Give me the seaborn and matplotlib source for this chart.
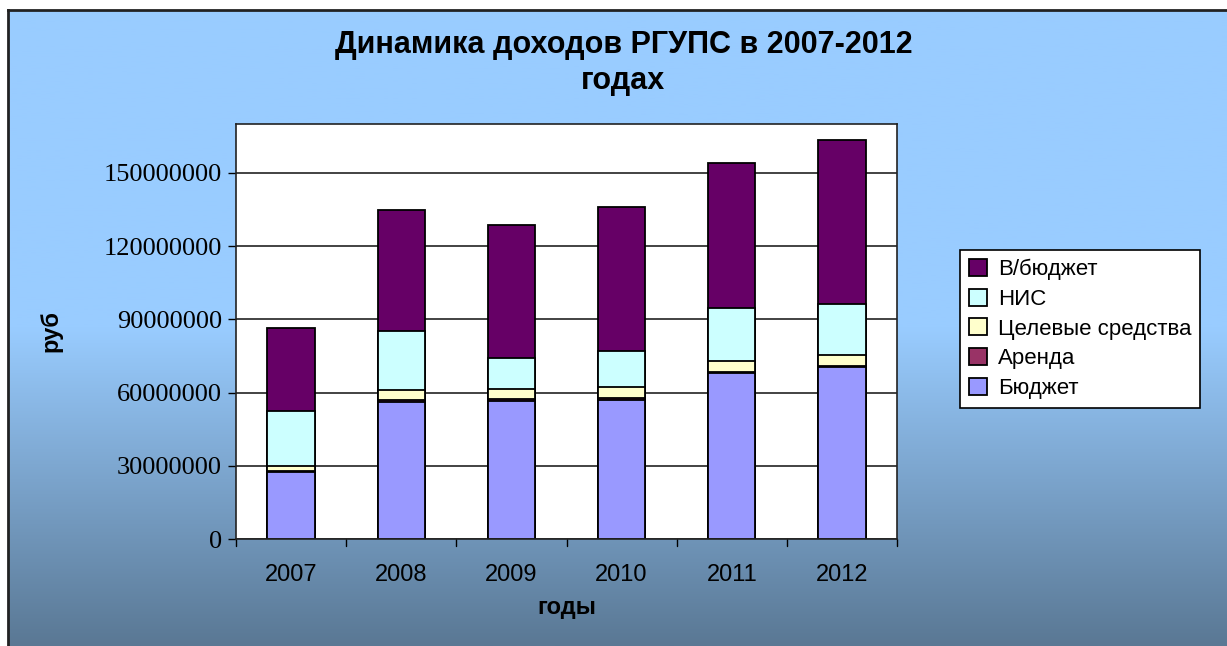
import numpy as np
import pandas as pd
import matplotlib
matplotlib.use("Agg")
import matplotlib.pyplot as plt
import seaborn as sns
from matplotlib.colors import LinearSegmentedColormap

# data (rubles)
years = ["2007", "2008", "2009", "2010", "2011", "2012"]
budget = [27.6e6, 56.1e6, 56.7e6, 57.1e6, 67.8e6, 70.6e6]
arenda = [0.3e6, 0.7e6, 0.7e6, 0.8e6, 0.8e6, 0.3e6]
celevye = [1.8e6, 4.4e6, 4.2e6, 4.5e6, 4.2e6, 4.5e6]
nis = [22.9e6, 24.0e6, 12.4e6, 14.8e6, 21.8e6, 20.8e6]
vbudget = [33.9e6, 49.6e6, 54.6e6, 58.6e6, 59.6e6, 67.4e6]

series_names = ["Бюджет", "Аренда", "Целевые средства", "НИС", "В/бюджет"]
series_colors = ["#9999FF", "#993366", "#FFFFCC", "#CCFFFF", "#660066"]

df = pd.DataFrame({"year": years, "Бюджет": budget, "Аренда": arenda,
                   "Целевые средства": celevye, "НИС": nis, "В/бюджет": vbudget})
cum = df[series_names].cumsum(axis=1)
cum["year"] = df["year"]

sns.set_style("white")
plt.rcParams["font.family"] = ["Liberation Sans", "DejaVu Sans"]
plt.rcParams["text.color"] = "black"
plt.rcParams["axes.labelcolor"] = "black"
plt.rcParams["xtick.color"] = "black"
plt.rcParams["ytick.color"] = "black"

fig = plt.figure(figsize=(12.27, 6.46), dpi=100)

# gradient background of the chart area
bg = fig.add_axes([8 / 1227, 0, 1 - 8 / 1227, 1 - 10 / 646], zorder=0)
cmap = LinearSegmentedColormap.from_list("bg", ["#99CCFF", "#99CCFF", "#5A7894"])
bg.imshow(np.linspace(0, 1, 256).reshape(-1, 1), aspect="auto", cmap=cmap,
          extent=[0, 1, 0, 1])
bg.set_xticks([])
bg.set_yticks([])
for s in ["right", "bottom"]:
    bg.spines[s].set_visible(False)
for s in ["left", "top"]:
    bg.spines[s].set_color("#222222")
    bg.spines[s].set_linewidth(2)

ax = fig.add_axes([236 / 1227, 107 / 646, 661 / 1227, 415 / 646], zorder=1)
ax.set_facecolor("white")

# stacked bars: draw cumulative totals from the top down
for name, col in reversed(list(zip(series_names, series_colors))):
    sns.barplot(data=cum, x="year", y=name, order=years, color=col,
                width=0.43, edgecolor="black", linewidth=1.3, ax=ax,
                saturation=1, label=name)

ax.set_ylim(0, 170e6)
ax.set_yticks(np.arange(0, 150e6 + 1, 30e6))
ax.set_yticklabels([str(int(v)) for v in np.arange(0, 150e6 + 1, 30e6)],
                   family="Liberation Serif", fontsize=19)
ax.yaxis.grid(True, color="#222222", linewidth=1.2)
ax.set_axisbelow(True)
ax.set_xlim(-0.5, 5.5)
ax.set_xticks(range(6))
ax.set_xticklabels(years, fontsize=17)
ax.tick_params(axis="x", length=0, pad=18)
ax.tick_params(axis="y", length=6, width=1, direction="out", left=True, pad=4)
for x in np.arange(-0.5, 6, 1):
    ax.plot([x, x], [0, -0.018], transform=ax.get_xaxis_transform(),
            color="black", lw=1, clip_on=False)
for s in ax.spines.values():
    s.set_color("#222222")
    s.set_linewidth(1.2)

ax.set_xlabel("годы", fontsize=17, fontweight="bold", labelpad=7)
ax.set_ylabel("руб", fontsize=17, fontweight="bold", labelpad=30)

fig.text(0.508, 0.902, "Динамика доходов РГУПС в 2007-2012\nгодах",
         ha="center", va="center", fontsize=22, fontweight="bold",
         linespacing=1.25)

handles, labels = ax.get_legend_handles_labels()
leg = ax.legend(handles[:5], labels[:5], loc="upper left",
                bbox_to_anchor=(960 / 1227, 1 - 250 / 646),
                bbox_transform=fig.transFigure, frameon=True, fancybox=False,
                fontsize=16, handlelength=0.8, handleheight=0.8,
                handletextpad=0.5, labelspacing=0.38, borderpad=0.4,
                borderaxespad=0)
leg.get_frame().set_edgecolor("black")
leg.get_frame().set_linewidth(1.2)
leg.get_frame().set_facecolor("white")
leg.get_frame().set_alpha(1)

fig.savefig("out.png", dpi=100)
